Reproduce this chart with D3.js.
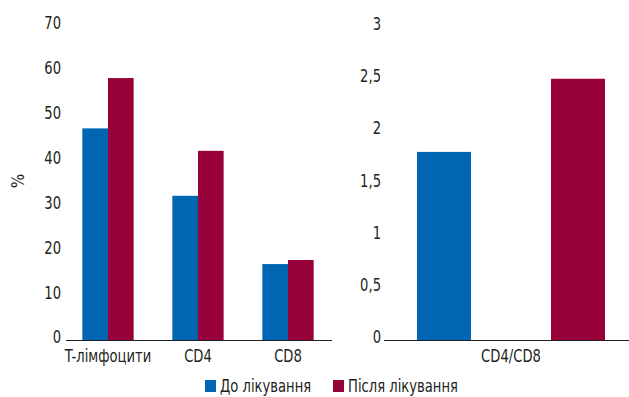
<!DOCTYPE html>
<html>
<head>
<meta charset="utf-8">
<script src="https://cdn.jsdelivr.net/npm/d3@7"></script>
<style>
  html, body { margin: 0; padding: 0; background: #fff; }
  svg text { font-family: "DejaVu Sans Condensed", "DejaVu Sans", sans-serif; font-stretch: condensed; fill: #231f20; }
</style>
</head>
<body>
<svg id="chart" width="629" height="397"></svg>
<script>
// ---- data ----
const categories = ["T-лімфоцити", "CD4", "CD8"];
const seriesNames = ["До лікування", "Після лікування"];
const beforeValues = [47.1, 32.1, 16.9];
const afterValues = [58.3, 42.1, 17.8];
const ratioCategory = ["CD4/CD8"];
const ratioBefore = [1.8];
const ratioAfter = [2.5];
const leftTicks = [0, 10, 20, 30, 40, 50, 60, 70];
const rightTicks = [0, 0.5, 1, 1.5, 2, 2.5, 3];
const rightTickLabels = ["0", "0,5", "1", "1,5", "2", "2,5", "3"];
const yLabel = "%";
const colors = ["#0065b2", "#98003a"];

const svg = d3.select("#chart");
const fontSize = 17;
const squeeze = "scale(0.86,1)";

// ---- left chart ----
const yL = d3.scaleLinear().domain([0, 70]).range([340, 25.5]);
const xL = d3.scaleBand().domain(categories).range([63, 333]).paddingInner(0.43).paddingOuter(0.215);
const xLs = d3.scaleBand().domain(seriesNames).range([0, xL.bandwidth()]);

const gL = svg.append("g");
categories.forEach((c, i) => {
  const vals = [beforeValues[i], afterValues[i]];
  gL.selectAll(null).data(vals).enter().append("rect")
    .attr("x", (d, j) => xL(c) + xLs(seriesNames[j]))
    .attr("width", xLs.bandwidth())
    .attr("y", d => yL(d))
    .attr("height", d => yL(0) - yL(d))
    .attr("fill", (d, j) => colors[j]);
});

// left y axis (labels only)
const axL = d3.axisLeft(yL).tickValues(leftTicks).tickSize(0).tickPadding(0).tickFormat(d3.format("d"));
const gAxL = svg.append("g").attr("transform", "translate(61,0)").call(axL);
gAxL.select(".domain").remove();
gAxL.selectAll("text").attr("font-size", fontSize).attr("dy", "0.32em").attr("y", -2.5)
  .attr("transform", squeeze).style("font-family", null);

// left x axis
const axLx = d3.axisBottom(xL).tickSize(0).tickPadding(10);
const gAxLx = svg.append("g").attr("transform", "translate(0,340)").call(axLx);
gAxLx.select(".domain").remove();
gAxLx.selectAll("text").attr("font-size", fontSize).attr("transform", squeeze).style("font-family", null);
svg.append("line").attr("x1", 66).attr("x2", 332).attr("y1", 340.5).attr("y2", 340.5)
  .attr("stroke", "#231f20").attr("stroke-width", 1.2);

// y label
svg.append("text").attr("transform", "translate(24,181) rotate(-90)")
  .attr("text-anchor", "middle").attr("font-size", fontSize).text(yLabel);

// ---- right chart ----
const yR = d3.scaleLinear().domain([0, 3]).range([340, 26.5]);
const xR = d3.scaleBand().domain(ratioCategory).range([384, 638]).paddingOuter(0.1755);
const xRs = d3.scaleBand().domain(seriesNames).range([0, xR.bandwidth()]).paddingInner(0.597);

const gR = svg.append("g");
ratioCategory.forEach((c, i) => {
  const vals = [ratioBefore[i], ratioAfter[i]];
  gR.selectAll(null).data(vals).enter().append("rect")
    .attr("x", (d, j) => xR(c) + xRs(seriesNames[j]))
    .attr("width", xRs.bandwidth())
    .attr("y", d => yR(d))
    .attr("height", d => yR(0) - yR(d))
    .attr("fill", (d, j) => colors[j]);
});

const axR = d3.axisLeft(yR).tickValues(rightTicks).tickSize(0).tickPadding(0)
  .tickFormat((d, i) => rightTickLabels[i]);
const gAxR = svg.append("g").attr("transform", "translate(381,0)").call(axR);
gAxR.select(".domain").remove();
gAxR.selectAll("text").attr("font-size", fontSize).attr("dy", "0.32em").attr("y", -2.5)
  .attr("transform", squeeze).style("font-family", null);

const axRx = d3.axisBottom(xR).tickSize(0).tickPadding(10);
const gAxRx = svg.append("g").attr("transform", "translate(0,340)").call(axRx);
gAxRx.select(".domain").remove();
gAxRx.selectAll("text").attr("font-size", fontSize).attr("transform", squeeze).style("font-family", null);
svg.append("line").attr("x1", 384).attr("x2", 629).attr("y1", 340.5).attr("y2", 340.5)
  .attr("stroke", "#231f20").attr("stroke-width", 1.2);

// ---- legend ----
const legendX = [205, 333];
const lg = svg.append("g");
seriesNames.forEach((s, i) => {
  lg.append("rect").attr("x", legendX[i]).attr("y", 380).attr("width", 11).attr("height", 12)
    .attr("fill", colors[i]);
  lg.append("g").attr("transform", `translate(${legendX[i] + 15},391.5)`)
    .append("text").attr("transform", squeeze).attr("font-size", fontSize).text(s);
});
</script>
</body>
</html>
